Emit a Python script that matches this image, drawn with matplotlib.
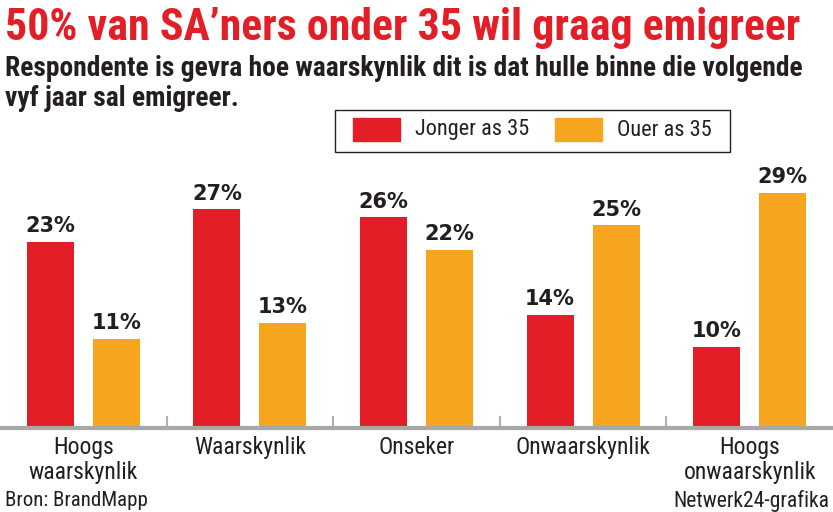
import matplotlib
matplotlib.use("Agg")
import matplotlib.pyplot as plt
import numpy as np
from matplotlib.patches import Rectangle

categories = ["Hoogs\nwaarskynlik", "Waarskynlik", "Onseker", "Onwaarskynlik", "Hoogs\nonwaarskynlik"]
jonger = [23, 27, 26, 14, 10]
ouer = [11, 13, 22, 25, 29]
series_names = ["Jonger as 35", "Ouer as 35"]

RED = "#e31e26"
ORANGE = "#f7a51e"
INK = "#231f20"
W, H = 833, 512

fig = plt.figure(figsize=(W / 100, H / 100), dpi=100)
FAM = ["Roboto Condensed", "Roboto", "DejaVu Sans"]
FAM_W = ["DejaVu Sans"]

def px(x, y):
    return x / W, 1 - y / H

ax = fig.add_axes([0, (H - 428) / H, 1, 278 / H])
x = np.arange(len(categories))
bw = 0.282
off = 0.198
b1 = ax.bar(x - off, jonger, bw, color=RED, zorder=2)
b2 = ax.bar(x + off, ouer, bw, color=ORANGE, zorder=2)
ax.set_xlim(-0.5, 4.5)
ax.set_ylim(0, 34.3)
for s in ax.spines.values():
    s.set_visible(False)
ax.set_yticks([])
ax.set_xticks([])
ax.axhline(0, color="#a8a8a8", lw=3, zorder=3, clip_on=False)
for sx in x[:-1] + 0.5:
    ax.plot([sx, sx], [0, 1.4], color="#b0b0b0", lw=1.5, zorder=1)

for bars, vals in ((b1, jonger), (b2, ouer)):
    for r, v in zip(bars, vals):
        ax.annotate(f"{v}%", (r.get_x() + r.get_width() / 2, v), xytext=(0, 4),
                    textcoords="offset points", ha="center", va="bottom",
                    fontsize=15, fontweight="bold", color=INK, family=FAM_W)

for xi, c in zip(x, categories):
    ax.annotate(c, (xi, 0), xytext=(0, -6), textcoords="offset points",
                ha="center", va="top", fontsize=17, color=INK,
                family=FAM, linespacing=1.08)

def fit(t, target_w):
    fig.canvas.draw()
    r = fig.canvas.get_renderer()
    bb = t.get_window_extent(r)
    t.set_fontsize(t.get_fontsize() * target_w / bb.width)

t1 = fig.text(*px(5, 28), "50% van SA\u2019ners onder 35 wil graag emigreer", ha="left",
              va="center", fontsize=30, fontweight="heavy", color=RED, family=FAM)
fit(t1, 795)
t2 = fig.text(*px(5, 68), "Respondente is gevra hoe waarskynlik dit is dat hulle binne die volgende",
              ha="left", va="center", fontsize=17, fontweight="bold", color=INK, family=FAM)
fit(t2, 800)
t3 = fig.text(*px(5, 98), "vyf jaar sal emigreer.", ha="left", va="center",
              fontsize=t2.get_fontsize(), fontweight="bold", color=INK, family=FAM)

# legend box
fig.patches.append(Rectangle(px(335, 152), 395 / W, 42 / H, transform=fig.transFigure,
                             fill=False, edgecolor=INK, lw=1))
fig.patches.append(Rectangle(px(353, 141), 47 / W, 23 / H, transform=fig.transFigure,
                             color=RED))
fig.patches.append(Rectangle(px(555, 141), 47 / W, 23 / H, transform=fig.transFigure,
                             color=ORANGE))
fig.text(*px(415, 130), series_names[0], ha="left", va="center", fontsize=16,
         color=INK, family=FAM)
fig.text(*px(617, 130), series_names[1], ha="left", va="center", fontsize=16,
         color=INK, family=FAM)

fig.text(*px(5, 501), "Bron: BrandMapp", ha="left", va="center", fontsize=15,
         color=INK, family=FAM)
fig.text(*px(829, 501), "Netwerk24-grafika", ha="right", va="center", fontsize=15.5,
         color=INK, family=FAM)

fig.savefig("out.png", dpi=100, facecolor="white")
